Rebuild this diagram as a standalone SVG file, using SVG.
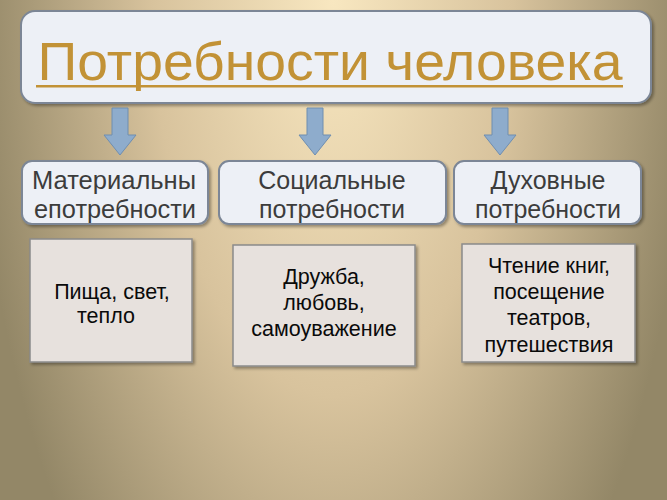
<svg xmlns="http://www.w3.org/2000/svg" width="667" height="500" viewBox="0 0 667 500">
<defs>
<radialGradient id="bg" cx="333" cy="0" r="360" gradientUnits="userSpaceOnUse" gradientTransform="translate(333 0) scale(1 2.2) translate(-333 0)">
<stop offset="0" stop-color="#f8e7c0"/>
<stop offset="0.5" stop-color="#d8c39d"/>
<stop offset="1" stop-color="#938767"/>
</radialGradient>
<filter id="sh" x="-10%" y="-10%" width="130%" height="130%">
<feDropShadow dx="2" dy="2" stdDeviation="1.5" flood-color="#000" flood-opacity="0.35"/>
</filter>
<path id="arrow" d="M-8 0 H8 V27 H16 L0 47 L-16 27 H-8 Z"/>
</defs>
<style>
.hdr{fill:#edf0f6;stroke:#7b8696;stroke-width:2;filter:url(#sh)}
.card{fill:#e7e1dd;stroke:#8b8b8b;stroke-width:1.5;filter:url(#sh)}
.arr{fill:#8eaccc;stroke:#6f8eb0;stroke-width:1}
.t2{font-family:"Liberation Sans",Arial,sans-serif;font-size:25px;fill:#3c3c3c;text-anchor:middle}
.t3{font-family:"Liberation Sans",Arial,sans-serif;font-size:21.5px;fill:#0a0a0a;text-anchor:middle}
</style>
<rect width="667" height="500" fill="url(#bg)"/>
<g id="title">
<rect class="hdr" x="21" y="11" width="630" height="92" rx="14"/>
<text x="330" y="80" font-family="Liberation Sans,Arial,sans-serif" font-size="54" fill="#c29236" text-anchor="middle" textLength="585" lengthAdjust="spacingAndGlyphs">Потребности человека</text>
<rect x="36" y="85" width="587" height="2.5" fill="#c29236"/>
</g>
<g id="connectors">
<use href="#arrow" class="arr" x="120" y="108"/>
<use href="#arrow" class="arr" x="315" y="108"/>
<use href="#arrow" class="arr" x="500" y="108"/>
</g>
<g id="material">
<rect class="hdr" x="22" y="161" width="186" height="63" rx="10"/>
<text class="t2" x="114" y="189" textLength="164" lengthAdjust="spacingAndGlyphs">Материальны</text>
<text class="t2" x="115" y="218" textLength="162" lengthAdjust="spacingAndGlyphs">епотребности</text>
</g>
<g id="social">
<rect class="hdr" x="219" y="161" width="227" height="63" rx="10"/>
<text class="t2" x="332" y="189">Социальные</text>
<text class="t2" x="332" y="218">потребности</text>
</g>
<g id="spiritual">
<rect class="hdr" x="454" y="161" width="187" height="63" rx="10"/>
<text class="t2" x="548" y="189">Духовные</text>
<text class="t2" x="548" y="218">потребности</text>
</g>
<g id="material-ex">
<rect class="card" x="30" y="239" width="162" height="123"/>
<text class="t3" x="112" y="299">Пища, свет,</text>
<text class="t3" x="106" y="323">тепло</text>
</g>
<g id="social-ex">
<rect class="card" x="233" y="245" width="182" height="121"/>
<text class="t3" x="324" y="284">Дружба,</text>
<text class="t3" x="324" y="310">любовь,</text>
<text class="t3" x="324" y="336">самоуважение</text>
</g>
<g id="spiritual-ex">
<rect class="card" x="462" y="244" width="173" height="118"/>
<text class="t3" x="549" y="273">Чтение книг,</text>
<text class="t3" x="549" y="299">посещение</text>
<text class="t3" x="549" y="325">театров,</text>
<text class="t3" x="549" y="352">путешествия</text>
</g>
</svg>
